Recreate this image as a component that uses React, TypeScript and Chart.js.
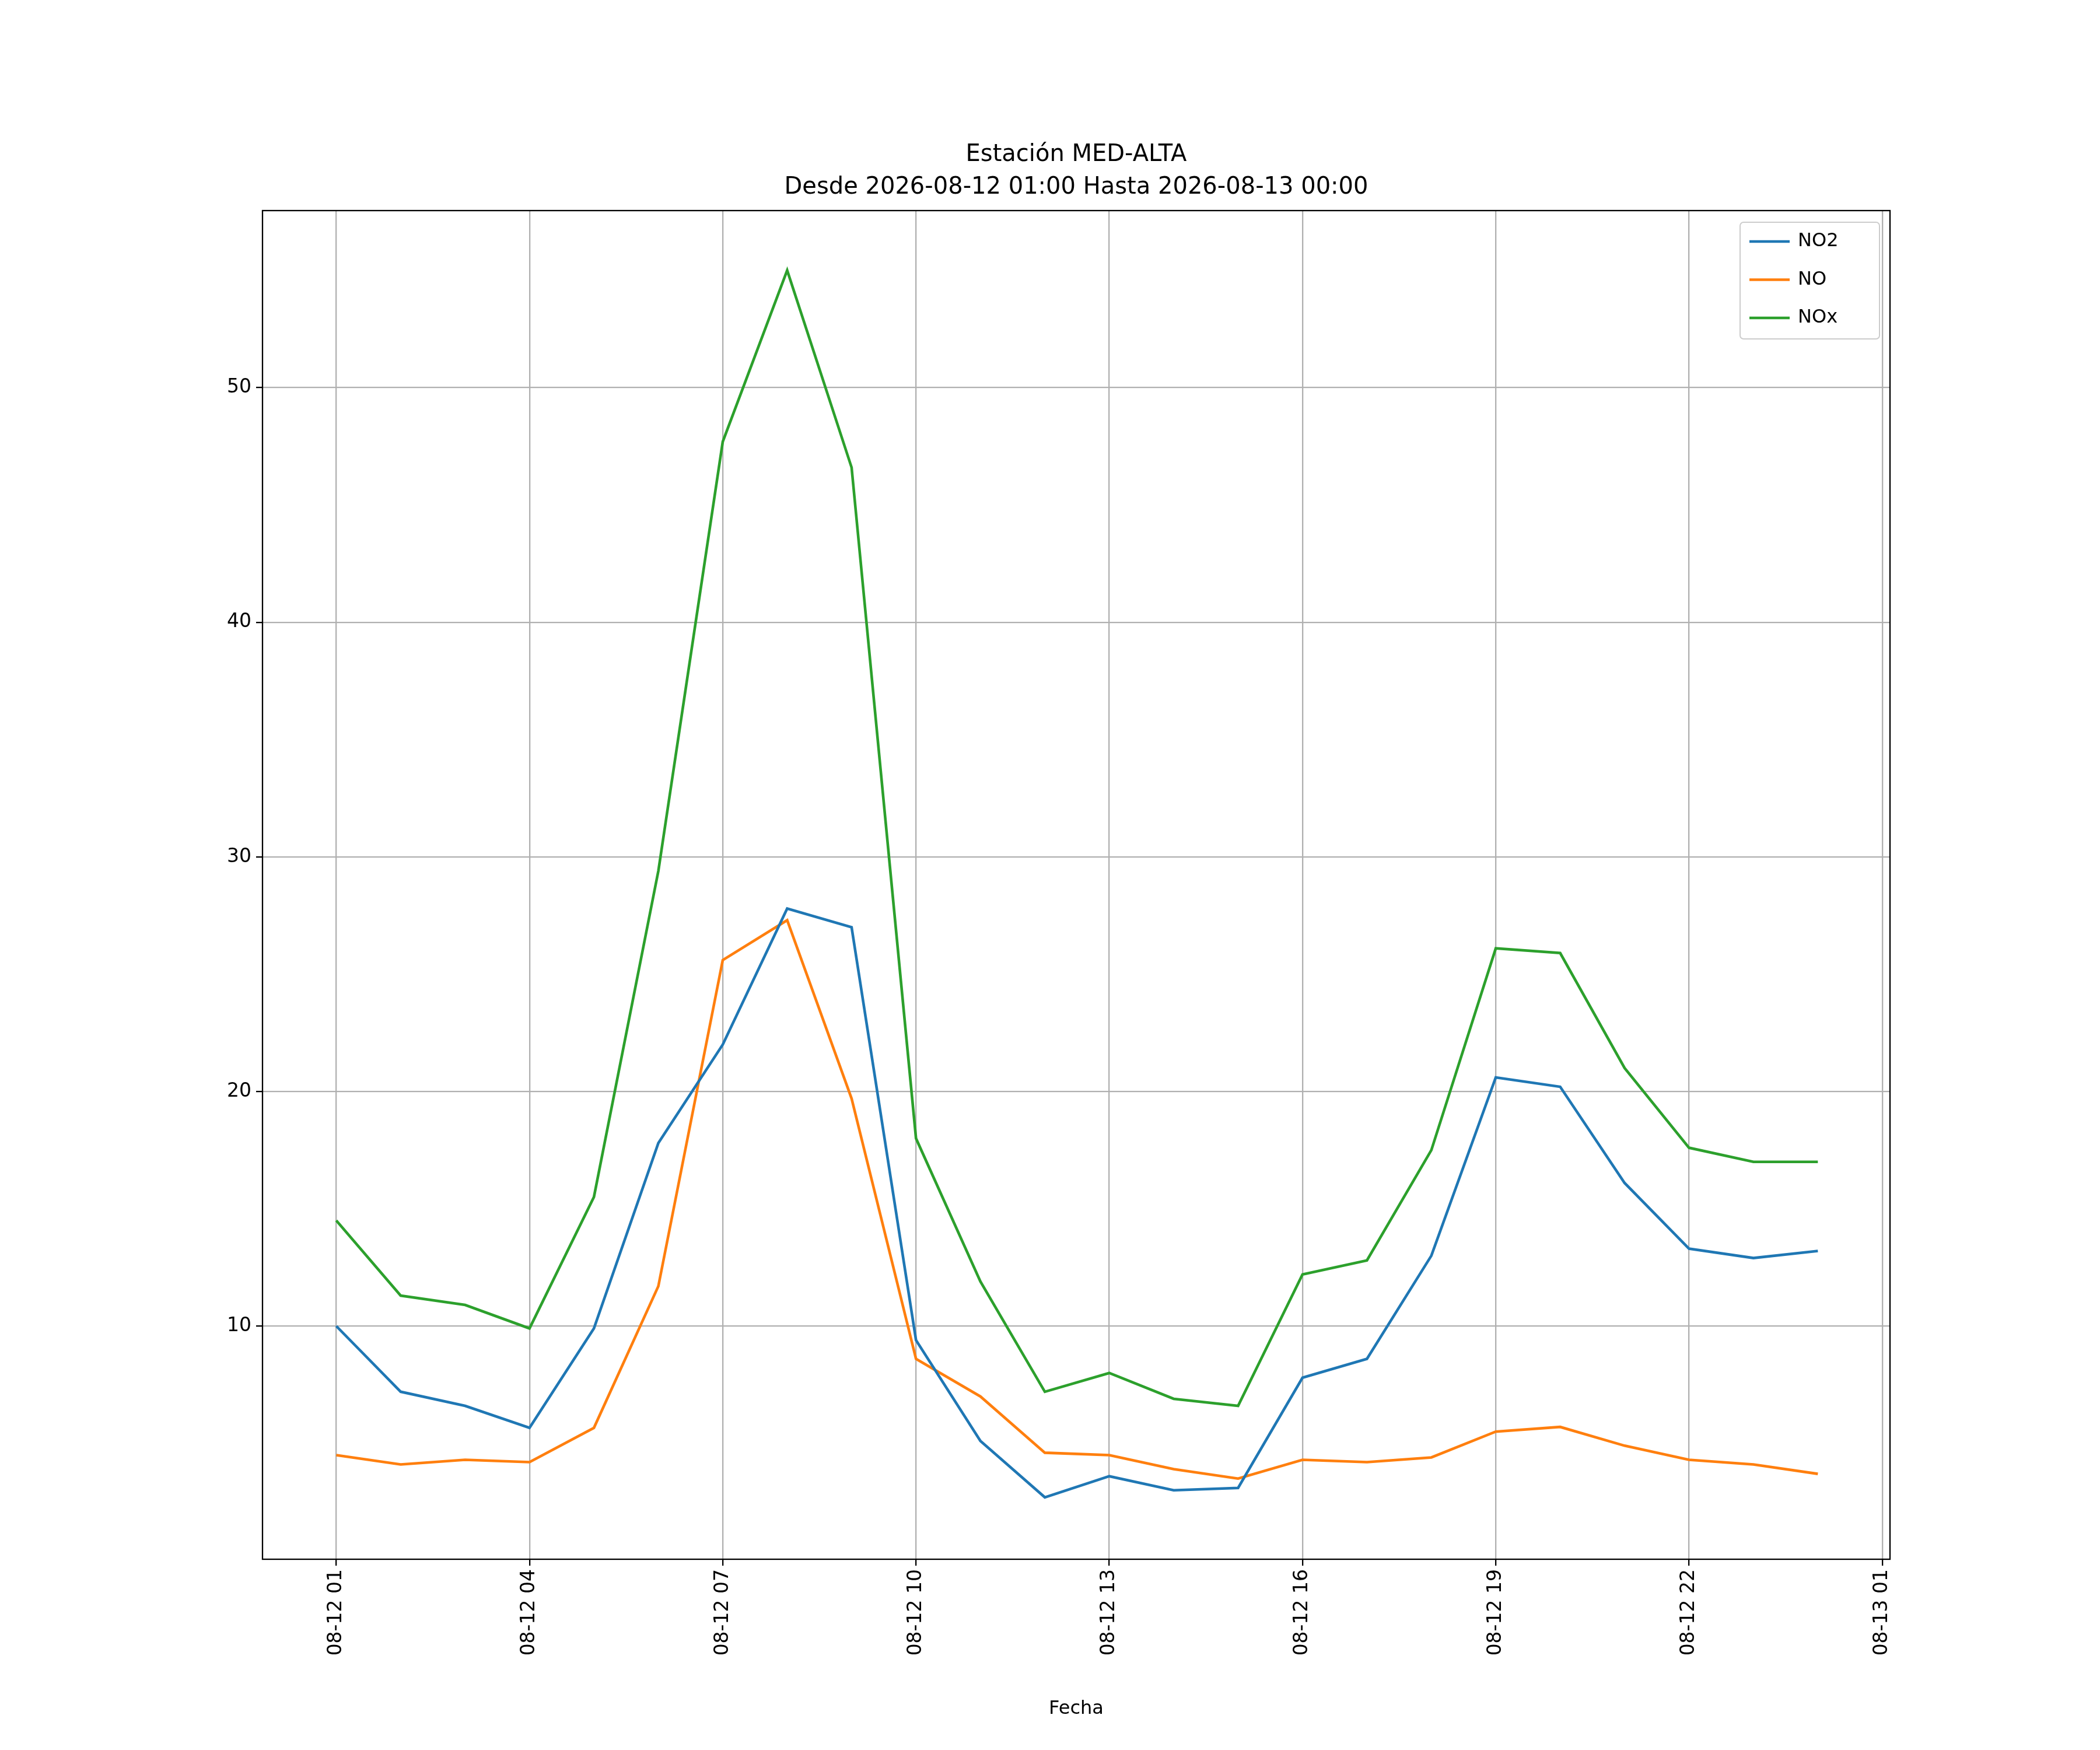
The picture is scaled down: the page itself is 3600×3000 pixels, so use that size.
import React, { useEffect, useRef } from "react";
import { Chart, registerables } from "chart.js";
Chart.register(...registerables);

const hours = Array.from({ length: 24 }, (_, i) => i);
const tickLabels = ["08-12 01", "08-12 04", "08-12 07", "08-12 10", "08-12 13", "08-12 16", "08-12 19", "08-12 22", "08-13 01"];
const no2 = [10.0, 7.2, 6.6, 5.66, 9.9, 17.8, 22.0, 27.8, 27.0, 9.4, 5.1, 2.7, 3.6, 3.0, 3.1, 7.8, 8.6, 13.0, 20.6, 20.2, 16.1, 13.3, 12.9, 13.2];
const no = [4.5, 4.1, 4.3, 4.2, 5.66, 11.7, 25.6, 27.3, 19.7, 8.6, 7.0, 4.6, 4.5, 3.9, 3.5, 4.3, 4.2, 4.4, 5.5, 5.7, 4.9, 4.3, 4.1, 3.7];
const nox = [14.5, 11.3, 10.9, 9.9, 15.5, 29.4, 47.7, 55.0, 46.6, 18.0, 11.9, 7.2, 8.0, 6.9, 6.6, 12.2, 12.8, 17.5, 26.1, 25.9, 21.0, 17.6, 17.0, 17.0];
const seriesNames = ["NO2", "NO", "NOx"];
const colors = ["#1f77b4", "#ff7f0e", "#2ca02c"];
const font = "DejaVu Sans";

export default function App() {
  const ref = useRef<HTMLCanvasElement>(null);
  useEffect(() => {
    const all = [no2, no, nox];
    const overlay = {
      id: "overlay",
      afterDraw(c: any) {
        const ctx = c.ctx;
        const a = c.chartArea;
        ctx.save();
        ctx.strokeStyle = "#000";
        ctx.lineWidth = 2.3;
        ctx.strokeRect(a.left, a.top, a.right - a.left, a.bottom - a.top);
        ctx.fillStyle = "#000";
        ctx.textAlign = "center";
        ctx.textBaseline = "alphabetic";
        ctx.font = `40px "${font}"`;
        ctx.fillText("Estación MED-ALTA", (a.left + a.right) / 2, 276);
        ctx.fillText("Desde 2026-08-12 01:00 Hasta 2026-08-13 00:00", (a.left + a.right) / 2, 332);
        ctx.font = `32px "${font}"`;
        ctx.fillText("Fecha", (a.left + a.right) / 2, 2938);
        // legend
        const lx = 2983, ly = 381, lw = 239, lh = 200;
        ctx.fillStyle = "rgba(255,255,255,0.8)";
        ctx.strokeStyle = "#cccccc";
        ctx.lineWidth = 2;
        ctx.beginPath();
        ctx.roundRect(lx, ly, lw, lh, 6);
        ctx.fill();
        ctx.stroke();
        ctx.textAlign = "left";
        ctx.textBaseline = "middle";
        ctx.font = `32px "${font}"`;
        seriesNames.forEach((n, i) => {
          const y = 414 + i * 65.5;
          ctx.strokeStyle = colors[i];
          ctx.lineWidth = 4.6;
          ctx.beginPath();
          ctx.moveTo(lx + 16, y);
          ctx.lineTo(lx + 85, y);
          ctx.stroke();
          ctx.fillStyle = "#000";
          ctx.fillText(n, lx + 99, y);
        });
        ctx.restore();
      },
    };
    const chart = new Chart(ref.current!, {
      type: "line",
      data: {
        labels: hours,
        datasets: all.map((d, i) => ({
          label: seriesNames[i],
          data: d.map((v, j) => ({ x: hours[j], y: v })),
          borderColor: colors[i],
          backgroundColor: colors[i],
          borderWidth: 4.6,
          pointRadius: 0,
          tension: 0,
        })),
      },
      options: {
        animation: false,
        responsive: false,
        devicePixelRatio: 1,
        layout: { padding: { left: 0, top: 361, right: 360, bottom: 0 } },
        plugins: { legend: { display: false }, title: { display: false }, tooltip: { enabled: false } },
        scales: {
          x: {
            type: "linear",
            min: -1.145,
            max: 24.12,
            afterFit: (s: any) => { s.height = 327; },
            afterBuildTicks: (s: any) => { s.ticks = tickLabels.map((_, i) => ({ value: i * 3 })); },
            grid: { color: "#b0b0b0", lineWidth: 2.3, tickColor: "#000", tickLength: 11 },
            border: { display: false },
            ticks: {
              autoSkip: false,
              maxRotation: 90,
              minRotation: 90,
              color: "#000",
              font: { family: font, size: 33 },
              padding: 6,
              callback: (v: any) => tickLabels[Math.round(Number(v) / 3)],
            },
          },
          y: {
            min: 0.06,
            max: 57.55,
            afterFit: (s: any) => { s.width = 450; },
            afterBuildTicks: (s: any) => { s.ticks = [10, 20, 30, 40, 50].map((v) => ({ value: v })); },
            grid: { color: "#b0b0b0", lineWidth: 2.3, tickColor: "#000", tickLength: 11 },
            border: { display: false },
            ticks: { color: "#000", font: { family: font, size: 33 }, padding: 8 },
          },
        },
      },
      plugins: [overlay],
    });
    return () => chart.destroy();
  }, []);
  return (
    <div style={{ position: "fixed", left: 0, top: 0, width: 3600, height: 3000, background: "#fff" }}>
      <canvas ref={ref} width={3600} height={3000} style={{ width: 3600, height: 3000 }} />
    </div>
  );
}
